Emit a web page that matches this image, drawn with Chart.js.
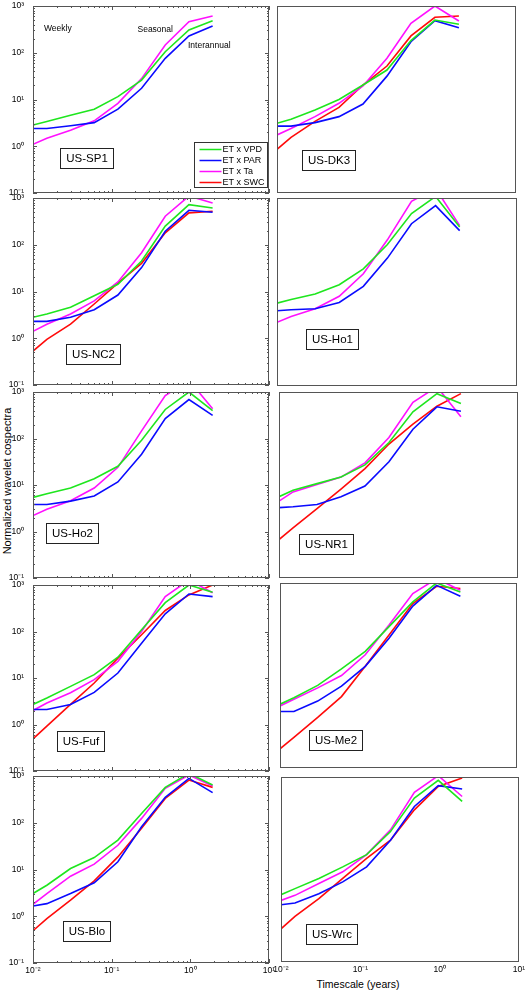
<!DOCTYPE html>
<html><head><meta charset="utf-8">
<script src="https://cdn.jsdelivr.net/npm/chart.js@4.4.1/dist/chart.umd.min.js"></script>
<style>
html,body{margin:0;padding:0;background:#fff;}
#wrap{position:relative;width:525px;height:990px;overflow:hidden;background:#fff;font-family:"Liberation Sans",Arial,sans-serif;color:#000;}
#wrap canvas{position:absolute;}
.ytitle{position:absolute;left:7px;top:481px;transform:translate(-50%,-50%) rotate(-90deg);font-size:11px;white-space:nowrap;}
.xtitle{position:absolute;left:358px;top:984px;transform:translate(-50%,-50%);font-size:10.5px;white-space:nowrap;}
</style></head>
<body><div id="wrap"><div class="ytitle">Normalized wavelet cospectra</div><div class="xtitle">Timescale (years)</div></div>
<script>
// ---------- DATA ----------
const timescale = [0.01, 0.015, 0.03, 0.06, 0.12, 0.24, 0.48, 0.96, 1.92];
const seriesNames = ['ET x VPD', 'ET x PAR', 'ET x Ta', 'ET x SWC'];
const sites = ['US-SP1','US-DK3','US-NC2','US-Ho1','US-Ho2','US-NR1','US-Fuf','US-Me2','US-Blo','US-Wrc'];
const xTickValues = [0.01, 0.1, 1, 10];
const xTickLabels = ['10\u207B\u00B2','10\u207B\u00B9','10\u2070','10\u00B9'];
const yTickValues = [0.1, 1, 10, 100, 1000];
const yTickLabels = ['10\u207B\u00B9','10\u2070','10\u00B9','10\u00B2','10\u00B3'];
const annotationTexts = ['Weekly', 'Seasonal', 'Interannual'];

const vpdSP1 = [2.85, 3.4, 4.6, 6.2, 11.5, 26, 105, 307, 485];
const parSP1 = [2.4, 2.4, 2.75, 3.2, 6.2, 17.4, 76, 229, 373];
const taSP1  = [1.1, 1.48, 2.2, 3.5, 8.3, 28, 147, 462, 611];
const swcSP1 = [];

const vpdDK3 = [3.1, 3.77, 5.96, 10, 20.4, 42.7, 182, 500, 406];
const parDK3 = [2.7, 2.7, 3.2, 4.3, 8.0, 31.6, 172, 485, 344];
const taDK3  = [1.74, 2.4, 4.3, 8.3, 19.5, 76, 427, 1000, 478];
const swcDK3 = [0.86, 1.55, 3.4, 6.8, 20.4, 52, 229, 573, 611];

const vpdNC2 = [2.8, 3.3, 4.6, 8.1, 14.3, 45, 250, 722, 612];
const parNC2 = [2.3, 2.3, 2.8, 4.07, 8.4, 32.4, 195, 546, 495];
const taNC2  = [1.41, 2.0, 3.3, 6.3, 16, 67.6, 408, 1100, 783];
const swcNC2 = [0.53, 0.95, 2.0, 5.4, 15.1, 40, 180, 481, 520];

const vpdHo1 = [5.8, 6.9, 9.06, 14.3, 31, 102, 465, 1080, 241];
const parHo1 = [4.0, 4.2, 4.4, 6.0, 13.2, 52.6, 284, 690, 202];
const taHo1  = [2.26, 3.0, 4.4, 8.1, 24.5, 129, 850, 1600, 258];
const swcHo1 = [];

const vpdHo2 = [5.4, 6.5, 8.6, 13.6, 25.3, 92, 421, 1000, 398];
const parHo2 = [3.8, 3.8, 4.5, 5.8, 11.6, 46, 267, 687, 313];
const taHo2  = [2.2, 3.0, 4.6, 8.6, 24, 146, 834, 1800, 434];
const swcHo2 = [];

const vpdNR1 = [5.6, 7.7, 10.7, 14.8, 27, 82, 375, 922, 565];
const parNR1 = [3.26, 3.4, 3.8, 5.6, 9.5, 31.7, 158, 480, 387];
const taNR1  = [4.5, 7.1, 10.2, 14.8, 30, 105, 600, 1300, 294];
const swcNR1 = [0.67, 1.2, 3.1, 8.2, 22.5, 76, 204, 495, 922];

const vpdFuf = [2.7, 3.7, 6.6, 11.8, 28, 109, 418, 1000, 700];
const parFuf = [2.1, 2.1, 2.7, 4.9, 12.8, 56, 240, 641, 562];
const taFuf  = [2.0, 2.9, 4.8, 9.2, 22.8, 100, 562, 1280, 680];
const swcFuf = [0.49, 0.92, 2.7, 7.8, 26.8, 85, 283, 611, 1000];

const vpdMe2 = [2.4, 3.3, 6.1, 13.9, 33.3, 114, 390, 1000, 641];
const parMe2 = [1.66, 1.66, 2.8, 5.9, 15.8, 64, 316, 890, 518];
const taMe2  = [2.2, 3.06, 5.4, 10, 28, 124, 590, 1240, 697];
const swcMe2 = [0.26, 0.46, 1.24, 3.5, 15.8, 75, 360, 850, 760];

const vpdBlo = [3.06, 4.6, 10.5, 18, 42.5, 158, 571, 1140, 641];
const parBlo = [1.66, 1.86, 3.06, 5.2, 14.6, 82, 349, 890, 440];
const taBlo  = [1.8, 3.06, 7.2, 13, 33, 124, 545, 1050, 611];
const swcBlo = [0.49, 0.89, 2.2, 5.7, 18.6, 76, 331, 820, 571];

const vpdWrc = [2.86, 3.86, 6.4, 11.4, 21, 66, 349, 845, 296];
const parWrc = [1.73, 1.88, 3.0, 5.4, 11.4, 43, 230, 649, 550];
const taWrc  = [2.15, 2.76, 5.0, 8.9, 21, 72, 464, 1070, 379];
const swcWrc = [0.52, 0.97, 2.35, 6.4, 17.4, 43, 195, 626, 950];

const siteSeries = [
  [vpdSP1, parSP1, taSP1, swcSP1],
  [vpdDK3, parDK3, taDK3, swcDK3],
  [vpdNC2, parNC2, taNC2, swcNC2],
  [vpdHo1, parHo1, taHo1, swcHo1],
  [vpdHo2, parHo2, taHo2, swcHo2],
  [vpdNR1, parNR1, taNR1, swcNR1],
  [vpdFuf, parFuf, taFuf, swcFuf],
  [vpdMe2, parMe2, taMe2, swcMe2],
  [vpdBlo, parBlo, taBlo, swcBlo],
  [vpdWrc, parWrc, taWrc, swcWrc]
];

// ---------- STYLE / LAYOUT ----------
const seriesColors = ['#1ee61e', '#0a0aff', '#ff10ff', '#ff0a0a'];
const FONT = '"Liberation Sans", Arial, sans-serif';
const panelLayout = [
  {left:33,  top:6,   right:269, bottom:193, col:0, last:false, box:[27,142]},
  {left:277, top:6,   right:516, bottom:193, col:1, last:false, box:[25,144]},
  {left:33,  top:198, right:269, bottom:385, col:0, last:false, box:[33,146]},
  {left:277, top:198, right:517, bottom:386, col:1, last:false, box:[29,131]},
  {left:33,  top:392, right:269, bottom:578, col:0, last:false, box:[13,131]},
  {left:279, top:392, right:518, bottom:578, col:1, last:false, box:[20,142]},
  {left:33,  top:585, right:269, bottom:771, col:0, last:false, box:[24,146]},
  {left:280, top:583, right:517, bottom:768, col:1, last:false, box:[29,147]},
  {left:33,  top:776, right:269, bottom:963, col:0, last:true,  box:[30,145]},
  {left:281, top:777, right:519, bottom:962, col:1, last:true,  box:[25,147]}
];
const notePos = [[11,23],[104.5,24],[155,40]];

Chart.defaults.font.family = FONT;

const panelDecor = {
  id: 'panelDecor',
  afterDatasetsDraw(chart, args, o) {
    const {ctx, chartArea: a, scales} = chart;
    const xs = scales.x, ys = scales.y;
    ctx.save();
    // inner ticks
    if (o.ticks) {
      ctx.strokeStyle = '#555';
      ctx.lineWidth = 1;
      ctx.beginPath();
      for (let e = -1; e <= 3; e++) {
        for (let m = 1; m <= 9; m++) {
          const v = m * Math.pow(10, e);
          if (v > 1000 + 1e-9) break;
          const py = Math.round(ys.getPixelForValue(v)) + 0.5;
          const len = m === 1 ? 4 : 2;
          ctx.moveTo(a.left, py); ctx.lineTo(a.left + len, py);
          ctx.moveTo(a.right, py); ctx.lineTo(a.right - len, py);
        }
      }
      for (let e = -2; e <= 1; e++) {
        for (let m = 1; m <= 9; m++) {
          const v = m * Math.pow(10, e);
          if (v > 10 + 1e-9) break;
          const px = Math.round(xs.getPixelForValue(v)) + 0.5;
          const len = m === 1 ? 4 : 2;
          ctx.moveTo(px, a.bottom); ctx.lineTo(px, a.bottom - len);
          ctx.moveTo(px, a.top); ctx.lineTo(px, a.top + len);
        }
      }
      ctx.stroke();
    }
    // frame
    ctx.strokeStyle = '#555';
    ctx.lineWidth = 1;
    ctx.strokeRect(a.left + 0.5, a.top + 0.5, a.right - a.left - 1, a.bottom - a.top - 1);
    // site label box
    ctx.font = '11.5px ' + FONT;
    const tw = ctx.measureText(o.site).width;
    const bx = Math.round(a.left + o.box[0]) + 0.5, by = Math.round(a.top + o.box[1]) + 0.5;
    const bw = Math.round(tw + 11), bh = 20;
    ctx.fillStyle = '#fff';
    ctx.fillRect(bx, by, bw, bh);
    ctx.strokeStyle = '#222';
    ctx.strokeRect(bx, by, bw, bh);
    ctx.fillStyle = '#000';
    ctx.textAlign = 'center';
    ctx.textBaseline = 'middle';
    ctx.fillText(o.site, bx + bw / 2, by + bh / 2 + 0.5);
    // legend
    if (o.legend) {
      const lw = 73, lh = 45;
      const lx = Math.round(a.right - 75) + 0.5, ly = Math.round(a.top + 136) + 0.5;
      ctx.fillStyle = '#fff';
      ctx.fillRect(lx, ly, lw, lh);
      ctx.strokeStyle = '#333';
      ctx.strokeRect(lx, ly, lw, lh);
      ctx.font = '9px ' + FONT;
      ctx.textAlign = 'left';
      chart.data.datasets.forEach((d, i) => {
        const yy = ly + 7 + i * 11;
        ctx.strokeStyle = d.borderColor;
        ctx.lineWidth = 1.5;
        ctx.beginPath(); ctx.moveTo(lx + 5, yy); ctx.lineTo(lx + 27, yy); ctx.stroke();
        ctx.fillStyle = '#000';
        ctx.fillText(d.label, lx + 28, yy + 0.5);
      });
    }
    // annotations
    if (o.notes) {
      ctx.font = '8.5px ' + FONT;
      ctx.textAlign = 'left';
      ctx.textBaseline = 'middle';
      ctx.fillStyle = '#000';
      o.notes.forEach((t, i) => ctx.fillText(t, a.left + notePos[i][0], a.top + notePos[i][1]));
    }
    ctx.restore();
  }
};

const wrap = document.getElementById('wrap');
panelLayout.forEach((p, k) => {
  const isLeft = p.col === 0;
  const showX = p.last;
  const padT = 18, padB = showX ? 0 : 18, padL = isLeft ? 0 : 14, padR = 12;
  const axisH = showX ? 22 : 0;
  const axisW = isLeft ? p.left : 0;
  const cx = isLeft ? 0 : p.left - padL;
  const cy = p.top - padT;
  const cw = (p.right - cx) + padR;
  const ch = (p.bottom - cy) + axisH + padB;
  const cv = document.createElement('canvas');
  cv.width = cw; cv.height = ch;
  cv.style.left = cx + 'px'; cv.style.top = cy + 'px';
  cv.style.width = cw + 'px'; cv.style.height = ch + 'px';
  wrap.appendChild(cv);

  const datasets = seriesNames.map((name, s) => ({
    label: name,
    data: siteSeries[k][s].map((v, i) => ({x: timescale[i], y: v})),
    borderColor: seriesColors[s],
    backgroundColor: seriesColors[s],
    borderWidth: 1.6,
    pointRadius: 0,
    fill: false,
    tension: 0
  }));

  new Chart(cv, {
    type: 'line',
    data: {datasets},
    options: {
      responsive: false,
      animation: false,
      devicePixelRatio: 1,
      events: [],
      layout: {padding: {left: padL, right: padR, top: padT, bottom: padB}},
      plugins: {
        legend: {display: false},
        tooltip: {enabled: false},
        panelDecor: {
          site: sites[k],
          box: p.box,
          ticks: isLeft,
          legend: k === 0,
          notes: k === 0 ? annotationTexts : null
        }
      },
      scales: {
        x: {
          type: 'logarithmic',
          min: 0.01, max: 10,
          display: showX,
          afterFit: s => { s.height = axisH; },
          afterBuildTicks: s => { s.ticks = xTickValues.map(v => ({value: v})); },
          grid: {display: false, drawTicks: false},
          border: {display: false},
          ticks: {
            callback: v => xTickLabels[xTickValues.indexOf(v)],
            font: {size: 8.5, family: FONT},
            color: '#000',
            padding: 3,
            autoSkip: false,
            maxRotation: 0
          }
        },
        y: {
          type: 'logarithmic',
          min: 0.1, max: 1000,
          display: isLeft,
          afterFit: s => { s.width = axisW; },
          afterBuildTicks: s => { s.ticks = yTickValues.map(v => ({value: v})); },
          grid: {display: false, drawTicks: false},
          border: {display: false},
          ticks: {
            callback: v => yTickLabels[yTickValues.indexOf(v)],
            font: {size: 8.5, family: FONT},
            color: '#000',
            padding: 9,
            autoSkip: false
          }
        }
      }
    },
    plugins: [panelDecor]
  });
});
</script>
</body></html>
